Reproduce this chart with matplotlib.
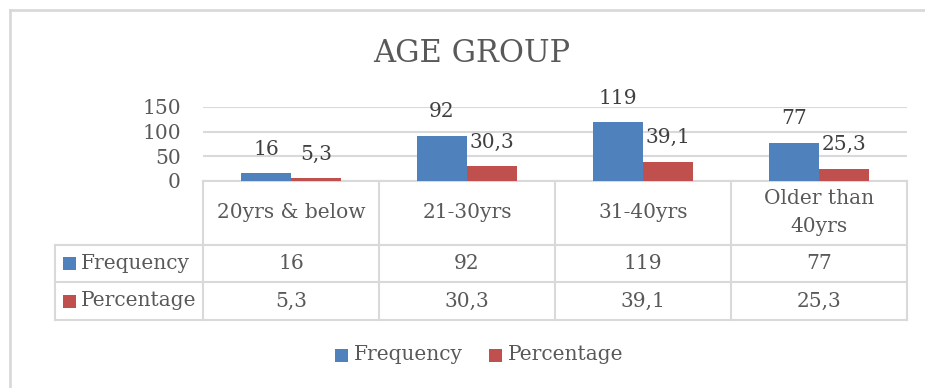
import matplotlib
matplotlib.use("Agg")
import matplotlib.pyplot as plt
from matplotlib.lines import Line2D
from matplotlib.patches import Rectangle

# Data
categories = ["20yrs & below", "21-30yrs", "31-40yrs", "Older than\n40yrs"]
frequency = [16, 92, 119, 77]
percentage = [5.3, 30.3, 39.1, 25.3]
series_names = ["Frequency", "Percentage"]
y_ticks = [0, 50, 100, 150]

BLUE = "#4F81BD"
RED = "#C0504D"
GRID = "#D9D9D9"
TEXT = "#595959"
LABEL = "#404040"

plt.rcParams["font.family"] = ["DejaVu Serif"]

W, H = 925, 388
fig = plt.figure(figsize=(W / 100, H / 100), dpi=100)

# pixel layout of the plot area and table
left_px, right_px = 203, 907
base_px, top_px = 181, 107
tab_left = 55
row_y = [181, 245, 282, 320]

def fx(px):
    return px / W

def fy(py):
    return 1 - py / H

# outer frame, top and left edges only
fig.add_artist(Line2D([fx(10), 1.0], [fy(10), fy(10)], color=GRID, lw=2))
fig.add_artist(Line2D([fx(10), fx(10)], [fy(10), 0.0], color=GRID, lw=2))

ax = fig.add_axes([fx(left_px), fy(base_px), fx(right_px - left_px), (base_px - top_px) / H])
n = len(categories)
xs = list(range(n))
bw = 50 / ((right_px - left_px) / n)

b1 = ax.bar([x - bw / 2 for x in xs], frequency, width=bw, color=BLUE, zorder=3)
b2 = ax.bar([x + bw / 2 for x in xs], percentage, width=bw, color=RED, zorder=3)

for bars, vals in ((b1, frequency), (b2, percentage)):
    for rect, v in zip(bars, vals):
        txt = str(v).replace(".", ",")
        ax.annotate(txt, (rect.get_x() + rect.get_width() / 2, rect.get_height()),
                    xytext=(0, 10.5), textcoords="offset points", ha="center", va="bottom",
                    fontsize=14.5, color=LABEL, annotation_clip=False)

ax.set_xlim(-0.5, n - 0.5)
ax.set_ylim(0, 150)
ax.set_yticks(y_ticks)
ax.set_yticklabels([str(t) for t in y_ticks])
ax.set_xticks([])
ax.tick_params(axis="y", length=0, pad=16, labelsize=14.5, labelcolor=TEXT)
ax.yaxis.grid(True, color=GRID, linewidth=1.5, zorder=0)
ax.patch.set_visible(False)
for s in ax.spines.values():
    s.set_visible(False)

# overlay in pixel coordinates for the data table and legend
ov = fig.add_axes([0, 0, 1, 1], zorder=-1)
ov.set_xlim(0, W)
ov.set_ylim(H, 0)
ov.axis("off")

lw = 1.5
col_w = (right_px - left_px) / n
col_edges = [left_px + i * col_w for i in range(n + 1)]

ov.plot([left_px, right_px], [row_y[0], row_y[0]], color=GRID, lw=lw)
for yy in row_y[1:]:
    ov.plot([tab_left, right_px], [yy, yy], color=GRID, lw=lw)
for xx in col_edges:
    ov.plot([xx, xx], [row_y[0], row_y[-1]], color=GRID, lw=lw)
ov.plot([tab_left, tab_left], [row_y[1], row_y[-1]], color=GRID, lw=lw)

# header row
for i, cat in enumerate(categories):
    cx = col_edges[i] + col_w / 2
    ov.text(cx, (row_y[0] + row_y[1]) / 2, cat, ha="center", va="center",
            fontsize=14.5, color=TEXT, linespacing=1.6)

# value rows
rows = [frequency, percentage]
colors = [BLUE, RED]
for r, (name, vals, c) in enumerate(zip(series_names, rows, colors)):
    cy = (row_y[r + 1] + row_y[r + 2]) / 2
    ov.add_patch(Rectangle((63, cy - 6.5), 13, 13, color=c, lw=0))
    ov.text(81, cy, name, ha="left", va="center", fontsize=14.5, color=TEXT)
    for i, v in enumerate(vals):
        cx = col_edges[i] + col_w / 2
        ov.text(cx, cy, str(v).replace(".", ","), ha="center", va="center",
                fontsize=14.5, color=TEXT)

# legend
leg_y = 355
for name, c, x0 in zip(series_names, colors, [335, 489]):
    ov.add_patch(Rectangle((x0, leg_y - 6.5), 13, 13, color=c, lw=0))
    ov.text(x0 + 19, leg_y, name, ha="left", va="center", fontsize=14.5, color=TEXT)

# title
fig.text(fx(472), fy(53), "AGE GROUP", ha="center", va="center", fontsize=22, color=TEXT)

fig.savefig("out.png", dpi=100)
